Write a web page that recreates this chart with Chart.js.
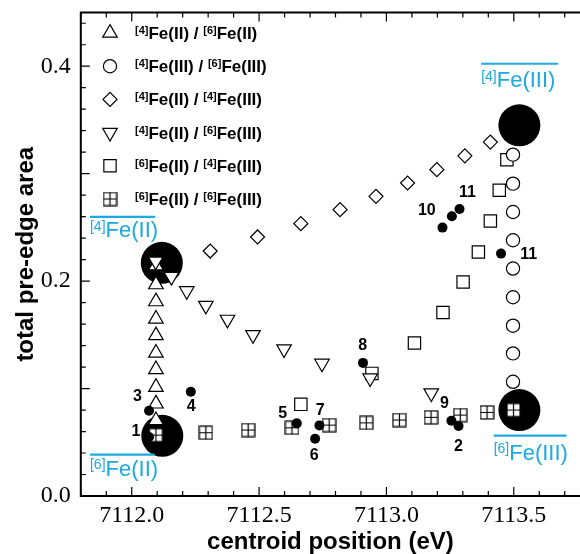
<!DOCTYPE html>
<html>
<head>
<meta charset="utf-8">
<script src="https://cdn.jsdelivr.net/npm/chart.js@4.4.1/dist/chart.umd.min.js"></script>
<style>
  html, body { margin: 0; padding: 0; background: #fff; overflow: hidden; }
  canvas { display: block; }
</style>
</head>
<body>
<canvas id="chart" width="580" height="554"></canvas>
<script>
// mixtures of the four reference compounds
const mixLabels = ['[4]Fe(II) / [6]Fe(II)', '[4]Fe(III) / [6]Fe(III)', '[4]Fe(II) / [4]Fe(III)',
                   '[4]Fe(II) / [6]Fe(III)', '[6]Fe(II) / [4]Fe(III)', '[6]Fe(II) / [6]Fe(III)'];

const upTri_x = [7112.095, 7112.095, 7112.095, 7112.095, 7112.095, 7112.095, 7112.095, 7112.095, 7112.095, 7112.095];
const upTri_y = [0.0704, 0.0858, 0.1013, 0.1178, 0.1332, 0.1494, 0.1648, 0.181, 0.1968, 0.2145];

const circ_x = [7113.497, 7113.497, 7113.497, 7113.497, 7113.497, 7113.497, 7113.497, 7113.497, 7113.497];
const circ_y = [0.1063, 0.1327, 0.1585, 0.185, 0.2117, 0.238, 0.2643, 0.2907, 0.3177];

const diam_x = [7112.308, 7112.494, 7112.664, 7112.818, 7112.959, 7113.083, 7113.198, 7113.308, 7113.408];
const diam_y = [0.228, 0.2411, 0.2535, 0.2665, 0.2789, 0.2913, 0.3037, 0.3166, 0.3294];

const downTri_x = [7112.094, 7112.156, 7112.216, 7112.291, 7112.376, 7112.476, 7112.598, 7112.747, 7112.936, 7113.176];
const downTri_y = [0.2185, 0.2041, 0.1909, 0.1773, 0.1643, 0.150, 0.1367, 0.1234, 0.1097, 0.0958];

const sq_x = [7112.664, 7112.943, 7113.110, 7113.222, 7113.301, 7113.361, 7113.408, 7113.443, 7113.473];
const sq_y = [0.0853, 0.1141, 0.1424, 0.1708, 0.1992, 0.2271, 0.256, 0.2845, 0.313];

const box_x = [7112.095, 7112.291, 7112.457, 7112.629, 7112.775, 7112.921, 7113.051, 7113.175, 7113.29, 7113.395, 7113.499];
const box_y = [0.0567, 0.0589, 0.0614, 0.0635, 0.066, 0.0681, 0.0707, 0.0732, 0.0753, 0.0778, 0.080];

// pure reference compounds (big black discs)
const refNames = ['[4]Fe(II)', '[6]Fe(II)', '[4]Fe(III)', '[6]Fe(III)'];
const ref_x = [7112.118, 7112.120, 7113.522, 7113.522];
const ref_y = [0.217, 0.056, 0.345, 0.080];

// samples (small black dots)
const sampleNames = ['1', '2', '3', '4', '5', '6', '7', '8', '9', '10', '', '11', '11'];
const sample_x = [7112.068, 7113.283, 7112.068, 7112.232, 7112.648, 7112.720, 7112.737, 7112.908, 7113.255, 7113.220, 7113.257, 7113.287, 7113.450];
const sample_y = [0.0549, 0.0651, 0.0793, 0.097, 0.0676, 0.0533, 0.0657, 0.1239, 0.070, 0.2498, 0.2603, 0.2671, 0.2256];

const xTicks = [7112.0, 7112.5, 7113.0, 7113.5];
const yTicks = [0.0, 0.2, 0.4];

// where the number sits relative to its dot (px)
const sampleLabelOffset = [[-13, -5], [0, 21], [-11.7, -14], [0.3, 15], [-14, -10], [-1, 17.3], [0.7, -14.6],
                           [-0.4, -17.7], [-7, -16.7], [-15.6, -17.3], [0, 0], [8, -16.4], [27.6, 1]];

// cyan tags next to the reference discs, placed in data units
const refTags = [
  { text: refNames[0], from: 7111.836, to: 7112.092, line: 0.2597, base: 0.2408 },
  { text: refNames[1], from: 7111.836, to: 7112.090, line: 0.0386, base: 0.0190 },
  { text: refNames[2], from: 7113.372, to: 7113.674, line: 0.4023, base: 0.3802 },
  { text: refNames[3], from: 7113.421, to: 7113.707, line: 0.0561, base: 0.0335 },
];

const SANS = '"Liberation Sans", Arial, sans-serif';
const SERIF = '"Liberation Serif", "Times New Roman", serif';
const CYAN = '#1ca9e1';

function makeBoxCross(size) {
  const s = size + 2;
  const c = document.createElement('canvas');
  c.width = s; c.height = s;
  const g = c.getContext('2d');
  g.fillStyle = '#fff';
  g.strokeStyle = '#000';
  g.lineWidth = 1.2;
  g.fillRect(1, 1, size, size);
  g.strokeRect(1, 1, size, size);
  g.beginPath();
  g.moveTo(s / 2, 1); g.lineTo(s / 2, 1 + size);
  g.moveTo(1, s / 2); g.lineTo(1 + size, s / 2);
  g.stroke();
  return c;
}

// text with [n] parts set as superscripts
function drawRich(ctx, text, x, y, size, bold) {
  const parts = text.split(/(\[\d\])/).filter(p => p);
  let cx = x;
  for (const p of parts) {
    const sup = /^\[\d\]$/.test(p);
    const fs = sup ? Math.round(size * 0.64) : size;
    ctx.font = (bold ? 'bold ' : '') + fs + 'px ' + SANS;
    ctx.fillText(p, cx, sup ? y - size * 0.3 : y);
    cx += ctx.measureText(p).width;
  }
}

const pts = (xs, ys) => xs.map((v, i) => ({ x: v, y: ys[i] }));
const open = { pointBorderColor: '#000', pointBackgroundColor: '#fff', pointBorderWidth: 1.2 };
const boxCross = makeBoxCross(13);

const overlay = {
  id: 'overlay',
  afterDatasetsDraw(chart) {
    const { ctx, chartArea: a, scales: { x, y } } = chart;
    ctx.save();

    // frame with inward ticks
    ctx.strokeStyle = '#000';
    ctx.lineWidth = 1.2;
    ctx.beginPath();
    for (let i = 0; i <= 19; i++) {
      const px = x.getPixelForValue(7111.8 + i * 0.1);
      const len = (i + 3) % 5 === 0 ? 9 : 5;
      ctx.moveTo(px, a.bottom); ctx.lineTo(px, a.bottom - len);
      ctx.moveTo(px, a.top); ctx.lineTo(px, a.top + len);
    }
    for (let i = 0; i <= 22; i++) {
      const py = y.getPixelForValue(i * 0.02);
      const len = i % 5 === 0 ? 9 : 5;
      ctx.moveTo(a.left, py); ctx.lineTo(a.left + len, py);
    }
    ctx.stroke();
    ctx.lineWidth = 2;
    ctx.beginPath();
    ctx.moveTo(a.right + 2, a.top); ctx.lineTo(a.left, a.top);
    ctx.lineTo(a.left, a.bottom); ctx.lineTo(a.right + 2, a.bottom);
    ctx.stroke();

    // legend
    ctx.fillStyle = '#000';
    ctx.textBaseline = 'alphabetic';
    ctx.textAlign = 'left';
    chart.data.datasets.slice(0, 6).forEach((ds, i) => {
      const cy = 33 + i * 33.2;
      ctx.save();
      ctx.fillStyle = '#fff';
      ctx.strokeStyle = '#000';
      ctx.lineWidth = 1.2;
      Chart.helpers.drawPoint(ctx, {
        pointStyle: ds.pointStyle, rotation: ds.pointRotation || 0,
        radius: ds.pointRadius || 7, borderWidth: 1.2
      }, 110, cy);
      ctx.restore();
      drawRich(ctx, ds.label, 135, cy + 6, 17, true);
    });

    // cyan reference tags
    ctx.fillStyle = CYAN;
    ctx.strokeStyle = CYAN;
    ctx.lineWidth = 2.2;
    refTags.forEach(t => {
      const x1 = x.getPixelForValue(t.from), x2 = x.getPixelForValue(t.to);
      const ly = y.getPixelForValue(t.line);
      ctx.beginPath(); ctx.moveTo(x1, ly); ctx.lineTo(x2, ly); ctx.stroke();
      drawRich(ctx, t.text, x1, y.getPixelForValue(t.base), 22, false);
    });

    // sample numbers
    ctx.fillStyle = '#000';
    ctx.font = 'bold 16px ' + SANS;
    ctx.textAlign = 'center';
    ctx.textBaseline = 'middle';
    sampleNames.forEach((n, i) => {
      if (!n) return;
      const px = x.getPixelForValue(sample_x[i]) + sampleLabelOffset[i][0];
      const py = y.getPixelForValue(sample_y[i]) + sampleLabelOffset[i][1];
      ctx.fillText(n, px, py);
    });
    ctx.restore();
  }
};

new Chart(document.getElementById('chart'), {
  type: 'scatter',
  data: {
    datasets: [
      { label: mixLabels[0], data: pts(upTri_x, upTri_y), pointStyle: 'triangle', pointRadius: 8.4, order: 5, ...open },
      { label: mixLabels[1], data: pts(circ_x, circ_y), pointStyle: 'circle', pointRadius: 6.6, order: 6, ...open },
      { label: mixLabels[2], data: pts(diam_x, diam_y), pointStyle: 'rectRot', pointRadius: 7, order: 6, ...open },
      { label: mixLabels[3], data: pts(downTri_x, downTri_y), pointStyle: 'triangle', pointRotation: 180, pointRadius: 8.4, order: 4, ...open },
      { label: mixLabels[4], data: pts(sq_x, sq_y), pointStyle: 'rect', pointRadius: 8.7, order: 7, ...open },
      { label: mixLabels[5], data: pts(box_x, box_y), pointStyle: boxCross, pointRadius: 7, order: 3, ...open },
      { label: 'reference', data: pts(ref_x, ref_y), pointStyle: 'circle', pointRadius: 21,
        pointBackgroundColor: '#000', pointBorderWidth: 0, order: 10 },
      { label: 'samples', data: pts(sample_x, sample_y), pointStyle: 'circle', pointRadius: 5,
        pointBackgroundColor: '#000', pointBorderWidth: 0, order: 1 },
    ]
  },
  options: {
    responsive: false,
    animation: false,
    events: [],
    layout: { autoPadding: false, padding: { top: 12.5, left: 0, right: 0, bottom: 0 } },
    plugins: { legend: { display: false }, tooltip: { enabled: false } },
    scales: {
      x: {
        type: 'linear', min: 7111.8, max: 7113.76,
        grid: { display: false, drawTicks: false }, border: { display: false },
        afterBuildTicks: s => { s.ticks = xTicks.map(v => ({ value: v })); },
        afterFit: s => { s.height = 58; s.paddingLeft = 0; s.paddingRight = 0; },
        ticks: { callback: v => v.toFixed(1), font: { family: SERIF, size: 24 }, color: '#000',
                 padding: 5, maxRotation: 0, autoSkip: false },
        title: { display: true, text: 'centroid position (eV)', color: '#000',
                 font: { family: SANS, size: 24, weight: 'bold' }, padding: { top: 0, bottom: -3 } }
      },
      y: {
        min: 0, max: 0.45,
        grid: { display: false, drawTicks: false }, border: { display: false },
        afterBuildTicks: s => { s.ticks = yTicks.map(v => ({ value: v })); },
        afterFit: s => { s.width = 80.8; s.paddingTop = 0; s.paddingBottom = 0; },
        ticks: { callback: v => v.toFixed(1), font: { family: SERIF, size: 24 }, color: '#000', padding: 10 },
        title: { display: true, text: 'total pre-edge area', color: '#000',
                 font: { family: SANS, size: 24, weight: 'bold' }, padding: { top: 12, bottom: 0 } }
      }
    }
  },
  plugins: [overlay]
});
</script>
</body>
</html>
